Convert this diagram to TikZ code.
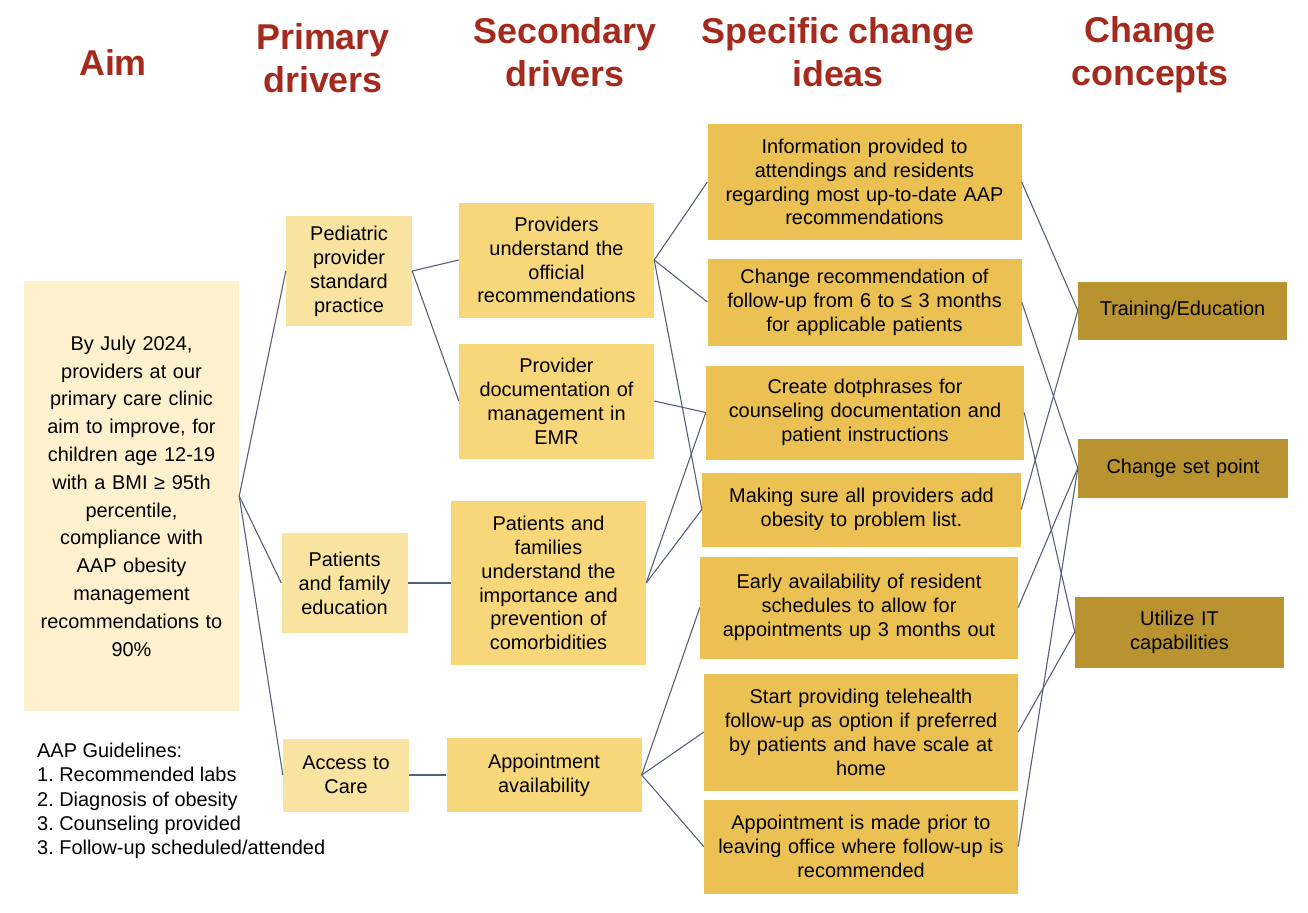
\documentclass[tikz,border=0pt]{standalone}
\usepackage{fontspec}
\setmainfont{Liberation Sans}
\frenchspacing
\definecolor{titlered}{HTML}{A52A1E}
\definecolor{aimfill}{HTML}{FFF1CE}
\definecolor{primfill}{HTML}{F9E3A0}
\definecolor{secfill}{HTML}{F8D77A}
\definecolor{ideafill}{HTML}{EAC152}
\definecolor{conceptfill}{HTML}{B8932F}
\definecolor{linegray}{HTML}{56607A}
\begin{document}
\begin{tikzpicture}[x=1bp, y=-1bp, font=\fontsize{20}{24}\selectfont]
\tikzstyle{title} = [text=titlered, font=\bfseries\fontsize{36}{43}\selectfont, align=center]
\tikzstyle{box} = [rectangle, inner sep=0pt, align=center]
\tikzstyle{primary} = [box, fill=primfill, minimum width=126bp, text width=120bp]
\tikzstyle{secondary} = [box, fill=secfill, minimum width=195bp, text width=189bp]
\tikzstyle{idea} = [box, fill=ideafill, minimum width=314bp, text width=306bp]
\tikzstyle{concept} = [box, fill=conceptfill, minimum width=209bp, text width=200bp]
\tikzstyle{link} = [draw=linegray, line width=1.1bp]

\useasboundingbox (0,0) rectangle (1308,912);

% column titles
\node (Taim) [title] at (113,63) {Aim};
\node (Tprim) [title] at (323,58) {Primary\\drivers};
\node (Tsec) [title] at (565,52) {Secondary\\drivers};
\node (Tidea) [title] at (838,52) {Specific change\\ideas};
\node (Tconc) [title] at (1150,55) {Change\\concepts};

% aim
\node (A) [box, fill=aimfill, minimum width=215bp, minimum height=430bp, text width=205bp,
  font=\fontsize{20}{27.9}\selectfont] at (131.5,496)
  {By July 2024,\\providers at our\\primary care clinic\\aim to improve, for\\children age 12-19\\with a BMI ≥ 95th\\percentile,\\compliance with\\AAP obesity\\management\\recommendations to\\90\%};
\node (G) [inner sep=0pt, anchor=north west, align=left, font=\fontsize{20}{24.3}\selectfont] at (37,743)
  {AAP Guidelines:\\1. Recommended labs\\2. Diagnosis of obesity\\3. Counseling provided\\3. Follow-up scheduled/attended};

% primary drivers
\node (P1) [primary, minimum height=110bp] at (349,271) {Pediatric\\provider\\standard\\practice};
\node (P2) [primary, minimum height=100bp] at (344.5,583) {Patients\\and family\\education};
\node (P3) [primary, minimum height=73bp] at (346,775) {Access to\\Care};

% secondary drivers
\node (S1) [secondary, minimum height=115bp] at (556.5,260) {Providers\\understand the\\official\\recommendations};
\node (S2) [secondary, minimum height=115bp] at (556.5,401) {Provider\\documentation of\\management in\\EMR};
\node (S3) [secondary, minimum height=164bp] at (548.5,583) {Patients and\\families\\understand the\\importance and\\prevention of\\comorbidities};
\node (S4) [secondary, minimum height=74bp] at (544,775) {Appointment\\availability};

% specific change ideas
\node (C1) [idea, minimum height=116bp] at (864.5,182) {Information provided to\\attendings and residents\\regarding most up-to-date AAP\\recommendations};
\node (C2) [idea, minimum height=87bp] at (864.5,302) {Change recommendation of\\follow-up from 6 to ≤ 3 months\\for applicable patients};
\node (C3) [idea, minimum width=318bp, minimum height=94bp] at (865,412.5) {Create dotphrases for\\counseling documentation and\\patient instructions};
\node (C4) [idea, minimum width=319bp, minimum height=74bp] at (861.5,509.5) {Making sure all providers add\\obesity to problem list.};
\node (C5) [idea, minimum width=318bp, minimum height=102bp] at (859,607.5) {Early availability of resident\\schedules to allow for\\appointments up 3 months out};
\node (C6) [idea, minimum height=117bp] at (861,732) {Start providing telehealth\\follow-up as option if preferred\\by patients and have scale at\\home};
\node (C7) [idea, minimum height=94bp] at (861,846.5) {Appointment is made prior to\\leaving office where follow-up is\\recommended};

% change concepts
\node (K1) [concept, minimum height=58bp] at (1182.5,310.5) {Training/Education};
\node (K2) [concept, minimum width=210bp, minimum height=59bp] at (1183,468) {Change set point};
\node (K3) [concept, minimum height=71bp] at (1179.5,632) {Utilize IT\\capabilities};

\path [link] (A.east) edge (P1.west)
             (A.east) edge (P2.west)
             (A.east) edge (P3.west)
             (P1.east) edge (S1.west)
             (P1.east) edge (S2.west)
             (P2.east) edge (S3.west)
             (P3.east) edge (S4.west)
             (S1.east) edge (C1.west)
             (S1.east) edge (C2.west)
             (S1.east) edge (C4.west)
             (S2.east) edge (C3.west)
             (S3.east) edge (C3.west)
             (S3.east) edge (C4.west)
             (S4.east) edge (C5.west)
             (S4.east) edge (C6.west)
             (S4.east) edge (C7.west)
             (C1.east) edge (K1.west)
             (C2.east) edge (K2.west)
             (C3.east) edge (K3.west)
             (C4.east) edge (K1.west)
             (C5.east) edge (K2.west)
             (C6.east) edge (K3.west)
             (C7.east) edge (K2.west);
\end{tikzpicture}
\end{document}
